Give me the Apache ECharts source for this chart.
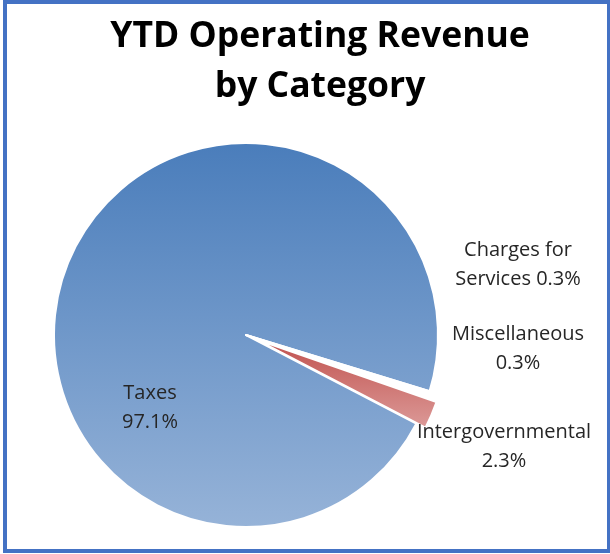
<!DOCTYPE html>
<html>
<head>
<meta charset="utf-8">
<script src="https://cdn.jsdelivr.net/npm/echarts@6/dist/echarts.min.js"></script>
<style>
  html,body{margin:0;padding:0;background:#fff;}
  #chart{width:610px;height:554px;}
</style>
</head>
<body>
<div id="chart"></div>
<script>
// categories and values (percent of YTD operating revenue)
var categories = ["Taxes", "Charges for Services", "Miscellaneous", "Intergovernmental"];
var values = [97.1, 0.3, 0.3, 2.3];
var labelTexts = ["Taxes\n97.1%", "Charges for\nServices 0.3%", "Miscellaneous\n0.3%", "Intergovernmental\n2.3%"];

// label anchor points (centre of each label block)
var labelPos = {
  "Taxes": [150, 408],
  "Charges for Services": [518, 265],
  "Miscellaneous": [518, 349],
  "Intergovernmental": [504, 447]
};

var blueFill = new echarts.graphic.LinearGradient(0, 0, 0, 1, [
  {offset: 0, color: "#4a7dbb"},
  {offset: 1, color: "#96b3d8"}
]);
var redFill = new echarts.graphic.LinearGradient(0, 0, 0, 1, [
  {offset: 0, color: "#c0504d"},
  {offset: 1, color: "#dc9a98"}
]);
var fills = [blueFill, "#ffffff", "#ffffff", redFill];

// slices
var pieData = [];
// labels (same slices, drawn transparent, so the labels ignore the exploded slice)
var labelData = [];
for (var i = 0; i < categories.length; i++) {
  pieData.push({
    name: categories[i],
    value: values[i],
    selected: categories[i] == "Intergovernmental",
    itemStyle: {color: fills[i]}
  });
  labelData.push({
    name: categories[i],
    value: values[i],
    label: {formatter: labelTexts[i]}
  });
}

var option = {
  animation: false,
  title: {
    text: "YTD Operating Revenue\nby Category",
    left: 315,
    top: 7,
    textAlign: "center",
    textStyle: {
      fontFamily: "Open Sans",
      fontWeight: "bold",
      fontSize: 35.5,
      lineHeight: 50,
      color: "#000"
    }
  },
  graphic: [{
    type: "rect",
    shape: {x: 5, y: 2, width: 604, height: 549},
    style: {fill: null, stroke: "#4472c4", lineWidth: 4},
    silent: true
  }],
  series: [{
    type: "pie",
    center: [246, 335],
    radius: 192,
    startAngle: -27.5,
    clockwise: true,
    selectedMode: "multiple",
    selectedOffset: 10,
    emphasis: {disabled: true},
    itemStyle: {borderColor: "#fff", borderWidth: 2},
    label: {show: false},
    labelLine: {show: false},
    data: pieData
  }, {
    type: "pie",
    center: [246, 335],
    radius: 192,
    startAngle: -27.5,
    clockwise: true,
    silent: true,
    selectedMode: false,
    avoidLabelOverlap: false,
    emphasis: {disabled: true},
    itemStyle: {color: "rgba(0,0,0,0)", borderWidth: 0},
    label: {
      show: true,
      position: "inside",
      fontFamily: "Open Sans",
      fontSize: 20,
      lineHeight: 29,
      color: "#262626",
      align: "center"
    },
    labelLine: {show: false},
    labelLayout: function (p) {
      var pos = labelPos[categories[p.dataIndex]];
      return {x: pos[0], y: pos[1], align: "center", verticalAlign: "middle"};
    },
    data: labelData
  }]
};

var chart = echarts.init(document.getElementById("chart"));
chart.setOption(option);
</script>
</body>
</html>
